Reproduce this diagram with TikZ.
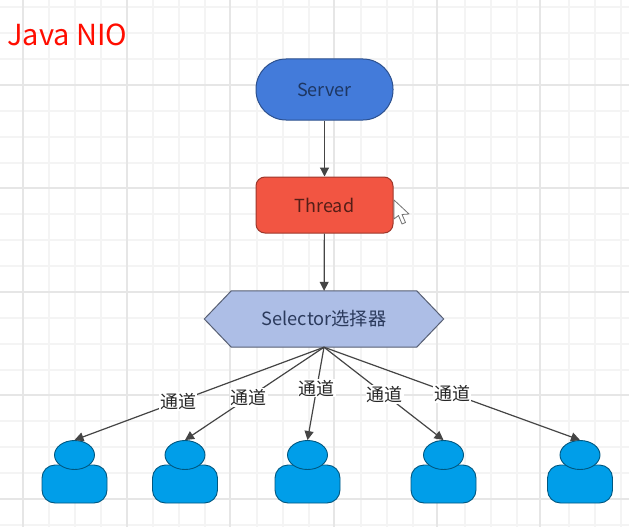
\documentclass[tikz,border=0pt]{standalone}
\usepackage{fontspec}
\setmainfont{Noto Sans CJK SC}
\usetikzlibrary{arrows.meta,calc,shapes.geometric}
\definecolor{gridmajor}{HTML}{E6E6E6}
\definecolor{gridminor}{HTML}{F4F4F4}
\definecolor{edgeline}{HTML}{454545}
\definecolor{userblue}{HTML}{009EE9}
\definecolor{ServerFill}{HTML}{437BDA}
\definecolor{ThreadFill}{HTML}{F25542}
\definecolor{SelectorFill}{HTML}{ADBEE6}
\definecolor{SelectorText}{HTML}{2B3A5C}
\tikzset{
  x=1pt,y=-1pt,
  box/.style={draw=#1!65!black,line width=1pt,inner sep=0pt,minimum width=137pt},
  serverbox/.style={box=ServerFill,fill=ServerFill,rounded corners=30pt,minimum height=61pt,text=ServerFill!45!black,font=\fontsize{18}{21}\selectfont},
  threadbox/.style={box=ThreadFill,fill=ThreadFill,rounded corners=9pt,minimum height=56pt,text=ThreadFill!35!black,font=\fontsize{18}{21}\selectfont},
  selectorlabel/.style={inner sep=0pt,minimum width=239pt,minimum height=56pt,text=SelectorText,font=\fontsize{18.2}{21}\selectfont},
  head/.style={ellipse,draw=userblue!55!black,fill=userblue,line width=.9pt,minimum width=40pt,minimum height=29pt,inner sep=0pt},
  userbody/.style={draw=userblue!55!black,fill=userblue,line width=.9pt,rounded corners=13pt,minimum width=65pt,minimum height=38pt,inner sep=0pt},
  flow/.style={draw=edgeline,line width=1.2pt,-{Triangle[length=9pt,width=9pt]}},
  channel/.style={fill=white,inner sep=1pt,text=black!85,font=\fontsize{18}{20}\selectfont},
}
\begin{document}
\begin{tikzpicture}
\useasboundingbox (0,0) rectangle (629,527);
\fill[white] (0,0) rectangle (629,527);
% canvas grid
\foreach \gx in {-3,49,75,101,153,179,205,257,283,309,361,387,413,465,491,517,569,595,621}
  \draw[gridminor,line width=1.2pt] (\gx,0) -- (\gx,527);
\foreach \gy in {7,33,59,111,137,163,214,240,266,318,344,370,421,447,473,525}
  \draw[gridminor,line width=1.2pt] (0,\gy) -- (629,\gy);
\foreach \gx in {23,127,230,334,437,540}
  \draw[gridmajor,line width=1.2pt] (\gx,0) -- (\gx,527);
\foreach \gy in {85,188,292,395,499}
  \draw[gridmajor,line width=1.2pt] (0,\gy) -- (629,\gy);

\node[anchor=west,inner sep=0pt,text=red!90!orange,font=\fontsize{29}{32}\selectfont] (title) at (7,34.5) {Java NIO};

\node[serverbox] (server) at (324.5,89.5) {\raisebox{-1pt}{Server}};
\node[threadbox] (thread) at (324.5,205) {Thread};

% hexagonal selector outline around its label node
\node[selectorlabel] (selector) at (324,319) {};
\draw[draw=SelectorFill!50!black,fill=SelectorFill,line width=1pt]
  (selector.west) -- ($(selector.north west)+(27,0)$) -- ($(selector.north east)+(-27,0)$)
  -- (selector.east) -- ($(selector.south east)+(-27,0)$) -- ($(selector.south west)+(27,0)$) -- cycle;
\node[selectorlabel] at (selector.center) {Selector选择器};

\draw[flow] (server) -- (thread);
\draw[flow] (thread) -- (selector);

% users: the body lies under the head
\foreach \nm/\ux in {a/74.5,b/185,c/307.5,d/443.5,e/580}{
  \node[userbody] (body\nm) at (\ux,484) {};
  \node[head] (head\nm) at (\ux,455) {};
}

\draw[flow] (selector.south) -- (heada.north) node[channel,pos=.585] (cha) {通道};
\draw[flow] (selector.south) -- (headb.north) node[channel,pos=.54] (chb) {通道};
\draw[flow] (selector.south) -- (headc.north) node[channel,pos=.44] (chc) {通道};
\draw[flow] (selector.south) -- (headd.north) node[channel,pos=.51] (chd) {通道};
\draw[flow] (selector.south) -- (heade.north) node[channel,pos=.50] (che) {通道};

% mouse pointer beside the Thread box
\draw[fill=white,draw=black!55,line width=.8pt,line join=round]
  (394,200) -- (394,219) -- (398.5,215.5) -- (402,224) -- (405.5,222.5) -- (402,214.5) -- (409,214) -- cycle;
\end{tikzpicture}
\end{document}
